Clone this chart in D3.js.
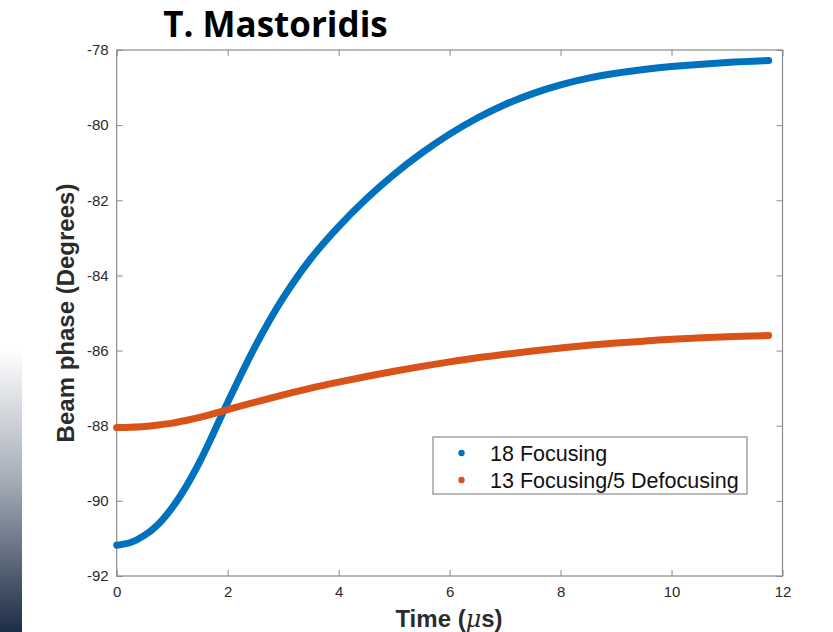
<!DOCTYPE html>
<html>
<head>
<meta charset="utf-8">
<script src="https://cdn.jsdelivr.net/npm/d3@7"></script>
<style>
  html, body { margin: 0; padding: 0; background: #fff; }
  svg { display: block; }
</style>
</head>
<body>
<svg id="chart" width="833" height="632"></svg>
<script>
// Beam phase versus time for two lattice configurations
const time = [0, 0.25, 0.5, 0.75, 1, 1.25, 1.5, 1.75, 2, 2.5, 3, 3.5, 4, 4.5, 5, 5.5, 6, 6.5, 7, 7.5, 8, 8.5, 9, 9.5, 10, 11, 11.75];
const phaseFocusing = [-91.18, -91.11, -90.92, -90.62, -90.18, -89.62, -88.95, -88.18, -87.38, -85.88, -84.60, -83.55, -82.70, -81.96, -81.31, -80.74, -80.24, -79.81, -79.45, -79.16, -78.93, -78.75, -78.62, -78.52, -78.44, -78.33, -78.28];
const phaseMixed    = [-88.05, -88.04, -88.02, -87.98, -87.93, -87.86, -87.78, -87.68, -87.57, -87.37, -87.18, -87.00, -86.84, -86.69, -86.55, -86.42, -86.30, -86.19, -86.10, -86.01, -85.93, -85.86, -85.80, -85.75, -85.70, -85.63, -85.60];
const seriesNames = ["18 Focusing", "13 Focusing/5 Defocusing"];
const xTicks = [0, 2, 4, 6, 8, 10, 12];
const yTicks = [-92, -90, -88, -86, -84, -82, -80, -78];

const colors = ["#0072BD", "#D95319"];
const svg = d3.select("#chart");

// side gradient strip
const defs = svg.append("defs");
const grad = defs.append("linearGradient").attr("id", "strip")
  .attr("x1", 0).attr("y1", 0).attr("x2", 0).attr("y2", 1);
grad.append("stop").attr("offset", "0%").attr("stop-color", "#ffffff");
grad.append("stop").attr("offset", "45%").attr("stop-color", "#a9b0bb");
grad.append("stop").attr("offset", "100%").attr("stop-color", "#1d2d45");
svg.append("rect").attr("x", 0).attr("y", 348).attr("width", 22).attr("height", 284)
  .attr("fill", "url(#strip)");

const L = 116.7, R = 782.5, T = 50, B = 576;
const x = d3.scaleLinear().domain([0, 12]).range([L, R]);
const y = d3.scaleLinear().domain([-92, -78]).range([B, T]);

const axisColor = "#8a8a8a";
const labelColor = "#2b2b2b";
const tickFont = "'Liberation Sans', Arial, Helvetica, sans-serif";
const plainNum = d => String(d);

// box
svg.append("rect").attr("x", L).attr("y", T).attr("width", R - L).attr("height", B - T)
  .attr("fill", "#fff").attr("stroke", axisColor).attr("stroke-width", 1.2);

function styleAxis(g) {
  g.select(".domain").remove();
  g.selectAll(".tick line").attr("stroke", axisColor).attr("stroke-width", 1);
  g.selectAll(".tick text").attr("fill", labelColor)
    .attr("font-family", tickFont).attr("font-size", 15);
}

// inward ticks on all four sides
svg.append("g").attr("transform", `translate(0,${B})`)
  .call(d3.axisBottom(x).tickValues(xTicks).tickFormat(plainNum).tickSizeInner(-6).tickPadding(10))
  .call(styleAxis);
svg.append("g").attr("transform", `translate(0,${T})`)
  .call(d3.axisTop(x).tickValues(xTicks).tickFormat("").tickSizeInner(-6))
  .call(styleAxis);
svg.append("g").attr("transform", `translate(${L},0)`)
  .call(d3.axisLeft(y).tickValues(yTicks).tickFormat(plainNum).tickSizeInner(-6).tickPadding(8))
  .call(styleAxis);
svg.append("g").attr("transform", `translate(${R},0)`)
  .call(d3.axisRight(y).tickValues(yTicks).tickFormat("").tickSizeInner(-6))
  .call(styleAxis);

// curves
const line = d3.line().x(d => x(d[0])).y(d => y(d[1])).curve(d3.curveCatmullRom.alpha(0.5));
[phaseFocusing, phaseMixed].forEach((vals, i) => {
  svg.append("path")
    .datum(time.map((t, k) => [t, vals[k]]))
    .attr("d", line)
    .attr("fill", "none")
    .attr("stroke", colors[i])
    .attr("stroke-width", 7)
    .attr("stroke-linecap", "round")
    .attr("stroke-linejoin", "round");
});

// legend
const lg = svg.append("g");
lg.append("rect").attr("x", 433).attr("y", 437).attr("width", 314).attr("height", 57)
  .attr("fill", "#fff").attr("stroke", axisColor).attr("stroke-width", 1.2);
seriesNames.forEach((name, i) => {
  const cy = 453 + i * 27;
  lg.append("circle").attr("cx", 461.5).attr("cy", cy).attr("r", 3.2).attr("fill", colors[i]);
  lg.append("text").attr("x", 490).attr("y", cy + 7.5)
    .attr("font-family", tickFont).attr("font-size", 21.5).attr("fill", "#111")
    .text(name);
});

// axis labels
svg.append("text")
  .attr("transform", "translate(74,313) rotate(-90)")
  .attr("text-anchor", "middle")
  .attr("font-family", tickFont).attr("font-weight", "bold").attr("font-size", 24)
  .attr("fill", "#2b2b2b")
  .text("Beam phase (Degrees)");

const xl = svg.append("text")
  .attr("x", 449).attr("y", 627)
  .attr("text-anchor", "middle")
  .attr("font-family", tickFont).attr("font-weight", "bold").attr("font-size", 24)
  .attr("fill", "#2b2b2b");
xl.append("tspan").text("Time (");
xl.append("tspan").attr("font-style", "italic").attr("font-weight", "normal").attr("font-family", "'DejaVu Serif', serif").text("μ");
xl.append("tspan").text("s)");

// title
svg.append("text")
  .attr("x", 275.5).attr("y", 37)
  .attr("text-anchor", "middle")
  .attr("font-family", "'Open Sans', sans-serif").attr("font-weight", "bold").attr("font-size", 35)
  .attr("fill", "#000")
  .text("T. Mastoridis");
</script>
</body>
</html>
